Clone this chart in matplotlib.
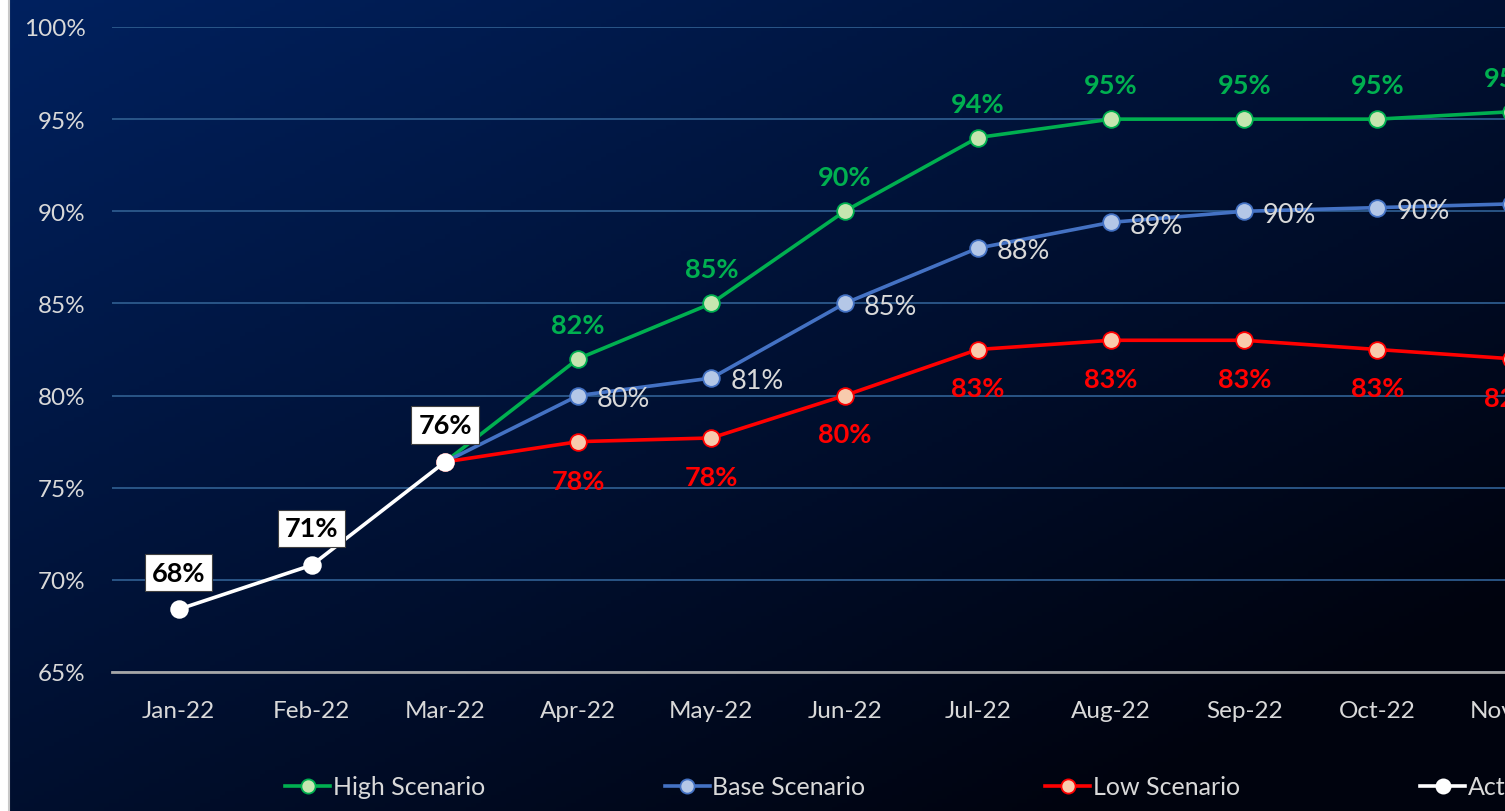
import numpy as np
import matplotlib
matplotlib.use("Agg")
import matplotlib.pyplot as plt
from matplotlib.lines import Line2D
from matplotlib.ticker import PercentFormatter

plt.rcParams['font.family'] = ['Lato', 'DejaVu Sans']

months = ['Jan-22', 'Feb-22', 'Mar-22', 'Apr-22', 'May-22', 'Jun-22',
          'Jul-22', 'Aug-22', 'Sep-22', 'Oct-22', 'Nov-22']
nan = np.nan
actual = [68.4, 70.8, 76.4, nan, nan, nan, nan, nan, nan, nan, nan]
high = [nan, nan, 76.4, 82.0, 85.0, 90.0, 94.0, 95.0, 95.0, 95.0, 95.4]
base = [nan, nan, 76.4, 80.0, 80.95, 85.0, 88.0, 89.4, 90.0, 90.2, 90.4]
low = [nan, nan, 76.4, 77.5, 77.7, 80.0, 82.5, 83.0, 83.0, 82.5, 82.0]

W, H = 1505, 812
fig = plt.figure(figsize=(W / 100, H / 100), dpi=100, facecolor='white')

# gradient background (navy top-left to near black bottom-right)
bg = fig.add_axes([9 / W, 0, 1, 1], zorder=0)
gx, gy = np.meshgrid(np.linspace(0, 1, 300), np.linspace(0, 1, 200))
t = np.clip(0.55 * gx + 0.6 * gy, 0, 1)
c0 = np.array([0, 33, 95]) / 255
c1 = np.array([0, 3, 14]) / 255
img = c0[None, None, :] * (1 - t[..., None]) + c1[None, None, :] * t[..., None]
bg.imshow(img, aspect='auto', extent=[0, 1, 0, 1], origin='upper')
bg.axis('off')
fig.add_artist(Line2D([8.5 / W] * 2, [0, 1], color='#c8c8c8', lw=1.5, zorder=1))

step = 133.2
ax = fig.add_axes([112 / W, (H - 673) / H, 12 * step / W, (673 - 28) / H], zorder=2)
ax.set_facecolor('none')

x = np.arange(len(months))
series = [
    ('High Scenario', high, '#00b050', '#c5e6b0'),
    ('Base Scenario', base, '#4472c4', '#b4c7e7'),
    ('Low Scenario', low, '#ff0000', '#f8cbad'),
    ('Actual', actual, 'white', 'white'),
]
for name, vals, lc, fc in series:
    ax.plot(x, vals, color=lc, lw=2.6, marker='o', ms=12, mfc=fc, mec=lc,
            mew=1.3, label=name, zorder=3)

def lab(v):
    return f"{int(v + 0.5)}%"

for i, v in enumerate(high):
    if i >= 3 and not np.isnan(v):
        ax.annotate(lab(v), (i, v), xytext=(0, 24.5), textcoords='offset points',
                    ha='center', va='center', color='#00b050', fontsize=19.5,
                    fontweight='bold', zorder=5)
for i, v in enumerate(base):
    if i >= 3 and not np.isnan(v):
        ax.annotate(lab(v), (i, v), xytext=(13.5, -2), textcoords='offset points',
                    ha='left', va='center', color='#d9d9d9', fontsize=19.5, zorder=5)
for i, v in enumerate(low):
    if i >= 3 and not np.isnan(v):
        ax.annotate(lab(v), (i, v), xytext=(0, -28), textcoords='offset points',
                    ha='center', va='center', color='#ff0000', fontsize=19.5,
                    fontweight='bold', zorder=5)
for i, v in enumerate(actual):
    if not np.isnan(v):
        ax.annotate(lab(v), (i, v), xytext=(0, 26.5), textcoords='offset points',
                    ha='center', va='center', color='black', fontsize=19.5,
                    fontweight='bold', zorder=6,
                    bbox=dict(boxstyle='square,pad=0.25', fc='white', ec='#404040', lw=0.8))

ax.set_xlim(-0.5, 11.5)
ax.set_ylim(65, 100)
ax.set_yticks(np.arange(65, 101, 5))
ax.yaxis.set_major_formatter(PercentFormatter(decimals=0))
ax.set_xticks(x)
ax.set_xticklabels(months)
ax.grid(axis='y', color='#2d5a8c', lw=1.3, zorder=1)
ax.tick_params(axis='both', length=0, colors='#d9d9d9', labelsize=17.5)
ax.tick_params(axis='y', pad=19)
ax.tick_params(axis='x', pad=20)
for s in ['top', 'right', 'left']:
    ax.spines[s].set_visible(False)
ax.spines['bottom'].set_color('#a6a6a6')
ax.spines['bottom'].set_linewidth(2)

leg = ax.legend(loc='center', bbox_to_anchor=(0.5, -0.178), ncol=4, frameon=False,
                fontsize=18, labelcolor='#d9d9d9', handlelength=1.8,
                handletextpad=0.1, columnspacing=7.2, markerscale=0.85)

fig.savefig('out.png', dpi=100, facecolor=fig.get_facecolor())
